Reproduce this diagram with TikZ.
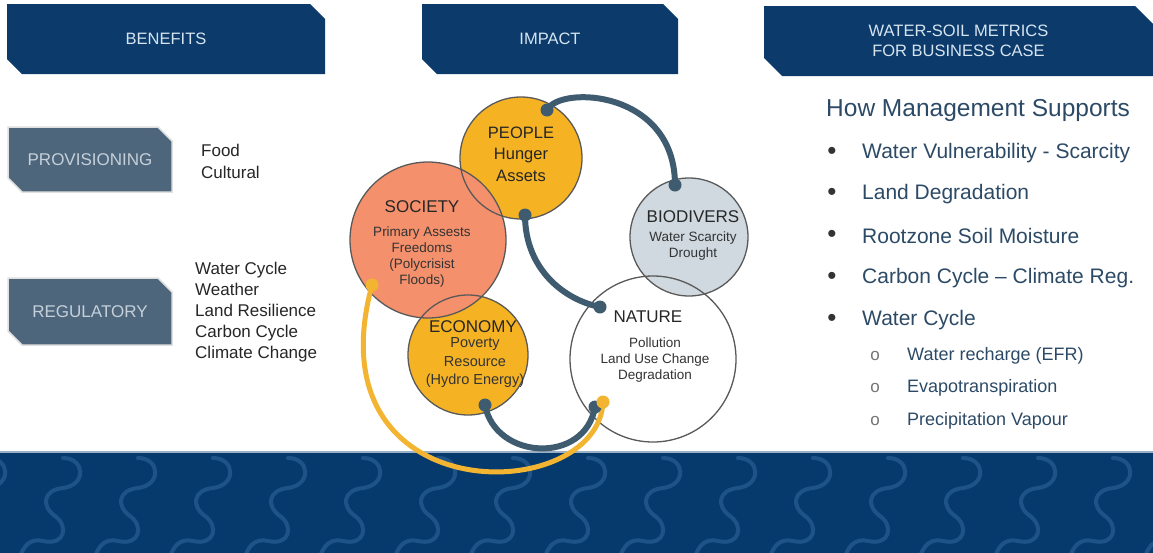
\documentclass[tikz,border=0pt]{standalone}
\usepackage{fontspec}
\setmainfont{Liberation Sans}
\usetikzlibrary{shapes.misc}

\definecolor{navy}{HTML}{0B3A6B}
\definecolor{slate}{HTML}{4D667B}
\definecolor{bandblue}{HTML}{063A6C}
\definecolor{wave}{HTML}{1D5386}
\definecolor{gold}{HTML}{F5B324}
\definecolor{salmon}{HTML}{F4906C}
\definecolor{mist}{HTML}{CFD9DF}
\definecolor{linkgray}{HTML}{3F5B70}
\definecolor{linkgold}{HTML}{F3B531}
\definecolor{headtext}{HTML}{D6E4F0}
\definecolor{bodytext}{HTML}{2C4A66}

\newcommand{\fsz}[2]{\fontsize{#1}{#2}\selectfont}

\tikzset{
  banner/.style={chamfered rectangle, chamfered rectangle corners={north east,south west},
    chamfered rectangle xsep=9pt, chamfered rectangle ysep=9pt, fill=navy, text=headtext,
    minimum height=70pt, inner sep=0pt, align=center, font=\fsz{16.5}{20}},
  tag/.style={chamfered rectangle, chamfered rectangle corners={north east,south west},
    chamfered rectangle xsep=8pt, chamfered rectangle ysep=8pt, fill=slate, draw=gray!25,
    line width=1.5pt, text=headtext!80!gray, minimum width=164pt, inner sep=0pt, font=\fsz{17}{20}},
  bubble/.style={circle, inner sep=0pt},
  ring/.style={draw=black!65, line width=1.3pt},
  title/.style={inner sep=0pt, text=black!85, font=\fsz{17}{20}},
  small/.style={inner sep=0pt, align=center, text=black!80},
  plain/.style={inner sep=0pt, anchor=west, align=left, text=black!85, font=\fsz{17}{21}},
  link/.style={draw=linkgray, line width=6pt},
  yellowlink/.style={draw=linkgold, line width=5pt},
  item/.style={inner sep=0pt, anchor=west, text=bodytext, font=\fsz{21}{24}},
  subitem/.style={inner sep=0pt, anchor=west, text=bodytext, font=\fsz{18}{21}},
}

\begin{document}
\begin{tikzpicture}[x=1pt, y=1pt]
\useasboundingbox (0,0) rectangle (1153,-552);

% bottom band
\fill[bandblue] (0,-452) rectangle (1160,-565);
\draw[white!60!bandblue, line width=1.2pt] (0,-452) -- (1153,-452);
\begin{scope}
  \clip (0,-453) rectangle (1160,-565);
  \foreach \x in {-60,15,...,1160}
    \draw[wave, line width=4pt, line cap=round]
      (\x+48,-458) .. controls (\x+70,-458) and (\x+72,-485) .. (\x+48,-488)
      .. controls (\x+28,-490) and (\x+26,-506) .. (\x+40,-516)
      .. controls (\x+54,-526) and (\x+50,-546) .. (\x+28,-541)
      .. controls (\x+16,-538) and (\x+8,-545) .. (\x+4,-560);
\end{scope}

% headers
\node[banner, minimum width=318pt] (benefits) at (166,-39) {BENEFITS};
\node[banner, minimum width=256pt] (impact) at (550,-39) {IMPACT};
\node[banner, minimum width=389pt] (metrics) at (958.5,-41) {WATER-SOIL METRICS\\FOR BUSINESS CASE};

% benefits column
\node[tag, minimum height=65pt] (prov) at (90,-159.5) {PROVISIONING};
\node[tag, minimum height=67pt] (regul) at (90,-311.5) {REGULATORY};
\node[plain, font=\fsz{17}{22}] (provlist) at (201,-161) {Food\\Cultural};
\node[plain] (regullist) at (195,-312) {Water Cycle\\Weather\\Land Resilience\\Carbon Cycle\\Climate Change};

% impact circles
\node[bubble, fill=white, minimum size=166pt] (nature) at (653,-359) {};
\node[bubble, fill=mist, minimum size=118pt] (biodiv) at (689,-237) {};
\node[bubble, fill=gold, minimum size=122pt] (people) at (521,-158) {};
\node[bubble, fill=gold, minimum size=120pt] (economy) at (468,-355) {};
\node[bubble, fill=salmon, minimum size=156pt] (society) at (428,-240) {};
\foreach \n/\r in {nature/83, biodiv/59, people/61, economy/60, society/78}
  \draw[ring] (\n.center) circle[radius=\r];

% connectors
\coordinate (ppTop) at (547,-110);
\coordinate (bdTop) at (675,-185);
\coordinate (ppBot) at (525,-215);
\coordinate (ntTop) at (600,-307);
\coordinate (ecBot) at (485,-405);
\coordinate (ntLow) at (595,-407);
\coordinate (ntYel) at (603,-402);
\coordinate (scLow) at (372,-285);

\draw[link] (ppTop) .. controls +(13,25) and +(0,95) .. (bdTop);
\draw[link] (ppBot) .. controls +(0,-55) and +(-35,7) .. (ntTop);
\draw[link] (ecBot) .. controls +(10,-55) and +(-10,-58) .. (ntLow);
\draw[yellowlink] (scLow) .. controls +(-62,-228) and +(-5,-105) .. (ntYel);
\foreach \c in {ppTop, bdTop, ppBot, ntTop, ecBot, ntLow}
  \fill[linkgray] (\c) circle[radius=6.5];
\foreach \c in {ntYel, scLow}
  \fill[linkgold] (\c) circle[radius=6.5];

% circle texts
\node[title, align=center, font=\fsz{16.5}{21.5}] (peopletxt) at (521,-154) {PEOPLE\\Hunger\\Assets};
\node[title] (societytitle) at (422,-207) {SOCIETY};
\node[small, font=\fsz{13.5}{16}] (societytxt) at (422,-257) {Primary Assests\\Freedoms\\(Polycrisist\\Floods)};
\node[title] (biodivtitle) at (693,-217) {BIODIVERS};
\node[small, font=\fsz{13.5}{16}] (biodivtxt) at (693,-246) {Water Scarcity\\Drought};
\node[title] (naturetitle) at (648,-317) {NATURE};
\node[small, font=\fsz{13.5}{16}] (naturetxt) at (655,-360) {Pollution\\Land Use Change\\Degradation};
\node[title] (economytitle) at (473,-327) {ECONOMY};
\node[small, font=\fsz{14.5}{18.5}] (economytxt) at (475,-363) {Poverty\\Resource\\(Hydro Energy)};

% metrics column
\node[item, font=\fsz{24.5}{28}] (howto) at (826,-110) {How Management Supports};
\foreach \y/\txt [count=\i] in {153/Water Vulnerability - Scarcity, 194/Land Degradation,
    236/Rootzone Soil Moisture, 278/Carbon Cycle -- Climate Reg., 320/Water Cycle} {
  \node[inner sep=0pt, text=black!80, font=\fsz{26}{28}] (bullet\i) at (832,-\y) {\textbullet};
  \node[item] (item\i) at (862,-\y) {\txt};
}
\foreach \y/\txt [count=\i] in {356/Water recharge (EFR), 388/Evapotranspiration, 421/Precipitation Vapour} {
  \node[inner sep=0pt, text=black!55, font=\fsz{17}{19}] (circ\i) at (875,-\y) {o};
  \node[subitem] (subitem\i) at (907,-\y) {\txt};
}
\end{tikzpicture}
\end{document}
